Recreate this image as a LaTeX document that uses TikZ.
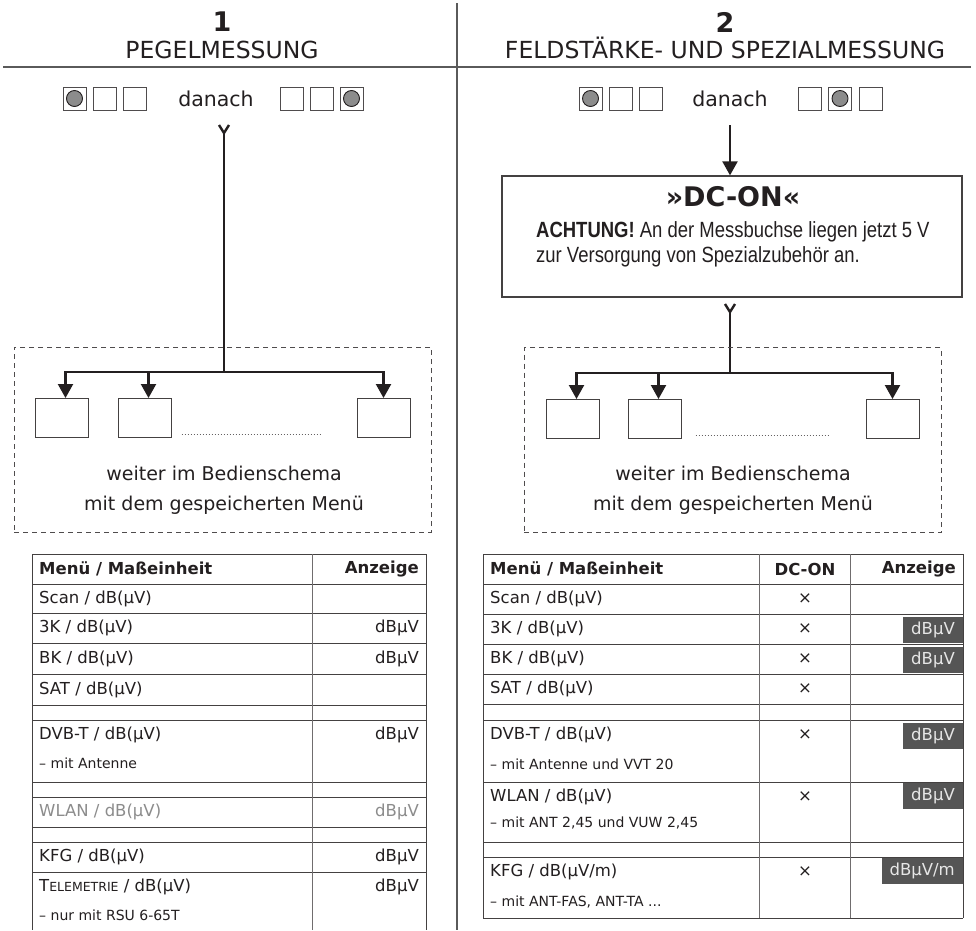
\documentclass[tikz,border=0pt]{standalone}
\usepackage{fontspec}
\setmainfont{DejaVu Sans}
\newfontfamily\condfont[FakeStretch=0.84]{Liberation Sans}
\usetikzlibrary{arrows.meta}
\definecolor{ink}{HTML}{231F20}
\definecolor{sepgray}{HTML}{5A5A5A}
\definecolor{btngray}{HTML}{8C8C8C}
\definecolor{hlgray}{HTML}{555555}
\definecolor{hltext}{HTML}{E6E6E6}
\definecolor{dimtext}{HTML}{8C8C8C}
\newcommand\fsz[1]{\fontsize{#1}{#1}\selectfont}
\tikzset{
  every node/.style={text=ink, inner sep=0pt},
  sepline/.style={draw=sepgray, line width=1.3pt},
  btn/.style={draw=ink!80, line width=0.9pt, minimum size=23pt, inner sep=0pt, fill=white},
  btnon/.style={btn, path picture={\filldraw[fill=btngray, draw=ink, line width=0.9pt] (path picture bounding box.center) circle (8pt);}},
  conn/.style={draw=ink, line width=2.2pt},
  arr/.style={conn, -{Triangle[length=14pt,width=15pt]}},
  tailmark/.style={draw=ink, line width=2.4pt},
  smallbox/.style={draw=ink!85, line width=1pt, minimum width=53pt, minimum height=39pt},
  dashbox/.style={draw=ink!80, line width=1pt, dash pattern=on 5pt off 4pt, minimum width=417pt, minimum height=185pt},
  tline/.style={draw=ink!85, line width=1pt},
  tcol/.style={draw=ink!65, line width=1pt},
  tl/.style={anchor=west, font=\fsz{16.5}},
  tr/.style={anchor=east, font=\fsz{16.5}},
  tc/.style={font=\fsz{16.5}},
  ts/.style={anchor=west, font=\fsz{14}},
  thl/.style={anchor=west, font=\bfseries\fsz{16.5}},
  thr/.style={anchor=east, font=\bfseries\fsz{16.5}},
  thc/.style={font=\bfseries\fsz{16.5}},
  hl/.style={fill=hlgray, text=hltext, font=\fsz{16.5}, minimum height=26pt, inner xsep=8pt, anchor=north east},
  bodytext/.style={font=\fsz{19}},
}
\begin{document}
\begin{tikzpicture}[x=1pt,y=-1pt]
\useasboundingbox[fill=white] (0,0) rectangle (976,930);

% headers and separators
\node[font=\bfseries\fsz{27}] (h1) at (222,22) {1};
\node[font=\fsz{23.5}] (h1t) at (222,50) {PEGELMESSUNG};
\node[font=\bfseries\fsz{27}] (h2) at (725,22) {2};
\node[font=\fsz{23.5}] (h2t) at (725,48) {FELDSTÄRKE- UND SPEZIALMESSUNG};
\coordinate (hsA) at (3,67);
\coordinate (hsB) at (971,67);
\coordinate (vsA) at (457,3);
\coordinate (vsB) at (457,930);
\draw[sepline] (hsA) -- (hsB);
\draw[sepline] (vsA) -- (vsB);

% buttons left
\node[btnon] (bl1) at (74.5,98.5) {};
\node[btn] (bl2) at (104.5,98.5) {};
\node[btn] (bl3) at (134.5,98.5) {};
\node[font=\fsz{20.5}] (dan1) at (216,99) {danach};
\node[btn] (bl4) at (291.5,98.5) {};
\node[btn] (bl5) at (321.5,98.5) {};
\node[btnon] (bl6) at (351.5,98.5) {};

% buttons right
\node[btnon] (br1) at (590.5,98.5) {};
\node[btn] (br2) at (620.5,98.5) {};
\node[btn] (br3) at (650.5,98.5) {};
\node[font=\fsz{20.5}] (dan2) at (730,99) {danach};
\node[btn] (br4) at (809.5,98.5) {};
\node[btnon] (br5) at (840,98.5) {};
\node[btn] (br6) at (870.5,98.5) {};

% left flow
\coordinate (s1) at (224,133);
\coordinate (j1) at (224,372);
\draw[tailmark] ([xshift=-5pt,yshift=8pt]s1) -- (s1) -- ([xshift=5pt,yshift=8pt]s1);
\draw[conn] (s1) -- (j1);
\node[dashbox] (d1) at (222.5,439.5) {};
\node[smallbox] (b11) at (61.5,418) {};
\node[smallbox] (b12) at (144.5,418) {};
\node[smallbox] (b13) at (383.5,418) {};
\draw[arr] (j1) -| ([xshift=4pt]b11.north);
\draw[arr] (j1) -| ([xshift=4pt]b12.north);
\draw[arr] (j1) -| (b13.north);
\draw[draw=ink!70, line width=0.8pt, dash pattern=on 0.8pt off 2.2pt] ([xshift=10pt,yshift=4pt]b12.south east) -- ([xshift=-35pt,yshift=4pt]b13.south west);
\node[bodytext] (w1a) at (224,473) {weiter im Bedienschema};
\node[bodytext] (w1b) at (224,505) {mit dem gespeicherten Menü};

% right flow
\coordinate (s2) at (730,125);
\node[draw=ink!85, line width=1.3pt, minimum width=460pt, minimum height=121pt] (dc) at (732,236.5) {};
\draw[arr] (s2) -- (s2 |- dc.north);
\node[font=\bfseries\fsz{27}] (dct) at (733,197) {»DC-ON«};
\node[anchor=west, font=\condfont\fsz{22}] (dca) at (536,232) {\textbf{ACHTUNG!} An der Messbuchse liegen jetzt 5 V};
\node[anchor=west, font=\condfont\fsz{22}] (dcb) at (536,257) {zur Versorgung von Spezialzubehör an.};
\coordinate (s3) at (730,312);
\coordinate (j2) at (730,373);
\draw[tailmark] ([xshift=-5pt,yshift=8pt]s3) -- (s3) -- ([xshift=5pt,yshift=8pt]s3);
\draw[conn] (s3) -- (j2);
\node[dashbox] (d2) at (732.5,440) {};
\node[smallbox] (b21) at (572.5,419) {};
\node[smallbox] (b22) at (654.5,419) {};
\node[smallbox] (b23) at (892.5,419) {};
\draw[arr] (j2) -| ([xshift=4pt]b21.north);
\draw[arr] (j2) -| ([xshift=4pt]b22.north);
\draw[arr] (j2) -| (b23.north);
\draw[draw=ink!70, line width=0.8pt, dash pattern=on 0.8pt off 2.2pt] ([xshift=14pt,yshift=4pt]b22.south east) -- ([xshift=-36pt,yshift=4pt]b23.south west);
\node[bodytext] (w2a) at (733,473) {weiter im Bedienschema};
\node[bodytext] (w2b) at (733,505) {mit dem gespeicherten Menü};

% left table
\foreach \yy in {554,584,613,643,674,705,720,782,797,827,842,872}
  \draw[tline] (32,\yy) -- (426,\yy);
\draw[tline] (32,554) -- (32,930);
\draw[tcol] (312,554) -- (312,930);
\draw[tline] (426,554) -- (426,930);
\node[thl] (lh1) at (39,569) {Menü / Maßeinheit};
\node[thr] (lh2) at (419,569) {Anzeige};
\node[tl] (l1) at (39,598.5) {Scan / dB(µV)};
\node[tl] (l2) at (39,628) {3K / dB(µV)};
\node[tr] (l2r) at (419,628) {dBµV};
\node[tl] (l3) at (39,658.5) {BK / dB(µV)};
\node[tr] (l3r) at (419,658.5) {dBµV};
\node[tl] (l4) at (39,689.5) {SAT / dB(µV)};
\node[tl] (l5) at (39,735) {DVB-T / dB(µV)};
\node[tr] (l5r) at (419,735) {dBµV};
\node[ts] (l5s) at (39,763) {– mit Antenne};
\node[tl, text=dimtext] (l6) at (39,812) {WLAN / dB(µV)};
\node[tr, text=dimtext] (l6r) at (419,812) {dBµV};
\node[tl] (l7) at (39,857) {KFG / dB(µV)};
\node[tr] (l7r) at (419,857) {dBµV};
\node[tl] (l8) at (39,887) {T{\fsz{12.5}ELEMETRIE} / dB(µV)};
\node[tr] (l8r) at (419,887) {dBµV};
\node[ts] (l8s) at (39,915) {– nur mit RSU 6-65T};

% right table
\foreach \yy in {554,584,614,644,674,704,720,782,842,857,918}
  \draw[tline] (483,\yy) -- (963,\yy);
\draw[tline] (483,554) -- (483,918);
\draw[tcol] (759,554) -- (759,918);
\draw[tcol] (850,554) -- (850,918);
\draw[tline] (963,554) -- (963,918);
\node[thl] (rh1) at (490,569) {Menü / Maßeinheit};
\node[thc] (rh2) at (805,569) {DC-ON};
\node[thr] (rh3) at (956,569) {Anzeige};
\node[tl] (r1) at (490,599) {Scan / dB(µV)};
\node[tc] (r1x) at (805,599) {×};
\node[tl] (r2) at (490,629) {3K / dB(µV)};
\node[tc] (r2x) at (805,629) {×};
\node[hl] (r2h) at (963,617) {dBµV};
\node[tl] (r3) at (490,659) {BK / dB(µV)};
\node[tc] (r3x) at (805,659) {×};
\node[hl] (r3h) at (963,647) {dBµV};
\node[tl] (r4) at (490,689) {SAT / dB(µV)};
\node[tc] (r4x) at (805,689) {×};
\node[tl] (r5) at (490,735) {DVB-T / dB(µV)};
\node[tc] (r5x) at (805,735) {×};
\node[hl] (r5h) at (963,723) {dBµV};
\node[ts] (r5s) at (490,764) {– mit Antenne und VVT 20};
\node[tl] (r6) at (490,797) {WLAN / dB(µV)};
\node[tc] (r6x) at (805,797) {×};
\node[hl] (r6h) at (963,783) {dBµV};
\node[ts] (r6s) at (490,823) {– mit ANT 2,45 und VUW 2,45};
\node[tl] (r7) at (490,872) {KFG / dB(µV/m)};
\node[tc] (r7x) at (805,872) {×};
\node[hl] (r7h) at (963,858) {dBµV/m};
\node[ts] (r7s) at (490,902) {– mit ANT-FAS, ANT-TA ...};
\end{tikzpicture}
\end{document}
